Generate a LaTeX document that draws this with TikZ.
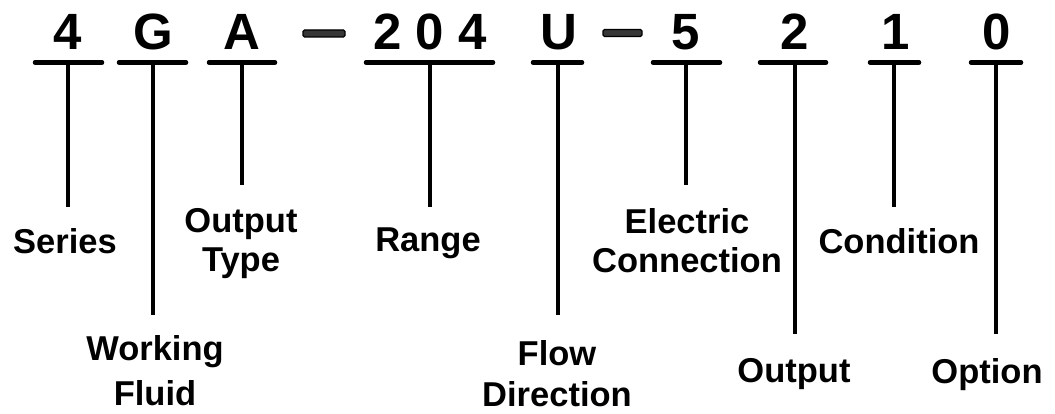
\documentclass[tikz,border=0pt]{standalone}
\usepackage{fontspec}
\setmainfont{Liberation Sans}
\begin{document}
\begin{tikzpicture}[x=1pt,y=-1pt,
  code/.style={font=\fontsize{51}{51}\selectfont\bfseries, inner sep=0pt, anchor=base},
  lbl/.style={font=\fontsize{34.5}{39}\selectfont\bfseries, inner sep=0pt, anchor=north, align=center},
  bar/.style={line width=4.5pt, line cap=round},
  stem/.style={line width=4.5pt},
  dashbox/.style={draw=black, fill={rgb,255:red,55;green,55;blue,55}, line width=1.4pt, rounded corners=1.5pt}]
\useasboundingbox (0,0) rectangle (1055,414);
% code characters
\node[code] (c4) at (68,50) {4};
\node[code] (cG) at (153,50) {G};
\node[code] (cA) at (242,50) {A};
\node[code] (c204) at (430,50) {2 0 4};
\node[code] (cU) at (559,50) {U};
\node[code] (c5) at (686,50) {5};
\node[code] (c2) at (795,50) {2};
\node[code] (c1) at (896,50) {1};
\node[code] (c0) at (997,50) {0};
% dashes
\draw[dashbox] (303,30) rectangle (345,37);
\draw[dashbox] (603,29.5) rectangle (642,36.5);
% bars
\foreach \n/\a/\b in {4/35/102, G/119/186, A/209/275, 204/366/493, U/533/582, 5/653/720, 2/760/826, 1/870/919, 0/971/1021}{
  \coordinate (bl\n) at (\a,62.5);
  \coordinate (br\n) at (\b,62.5);
  \draw[bar] (bl\n) -- (br\n);
}
% stem tops and bottoms
\foreach \n/\x/\y in {4/68/207, G/153/315, A/242/185, 204/430/207, U/558/315, 5/686/185, 2/795/334, 1/894/207, 0/996/334}{
  \coordinate (t\n) at (\x,62.5);
  \coordinate (s\n) at (\x,\y);
  \draw[stem] (t\n) -- (s\n);
}
% labels
\node[lbl] (lSeries) at (65,228) {Series};
\node[lbl] (lType) at (241,208) {Output\\Type};
\node[lbl] (lRange) at (428,228) {Range};
\node[lbl, font=\fontsize{34.5}{45}\selectfont\bfseries] (lFluid) at (155,335) {Working\\Fluid};
\node[lbl, font=\fontsize{34.5}{41}\selectfont\bfseries] (lFlow) at (557,340) {Flow\\Direction};
\node[lbl] (lElec) at (687,208) {Electric\\Connection};
\node[lbl] (lCond) at (899,228) {Condition};
\node[lbl] (lOut) at (794,358) {Output};
\node[lbl] (lOpt) at (987,358) {Option};
\end{tikzpicture}
\end{document}
